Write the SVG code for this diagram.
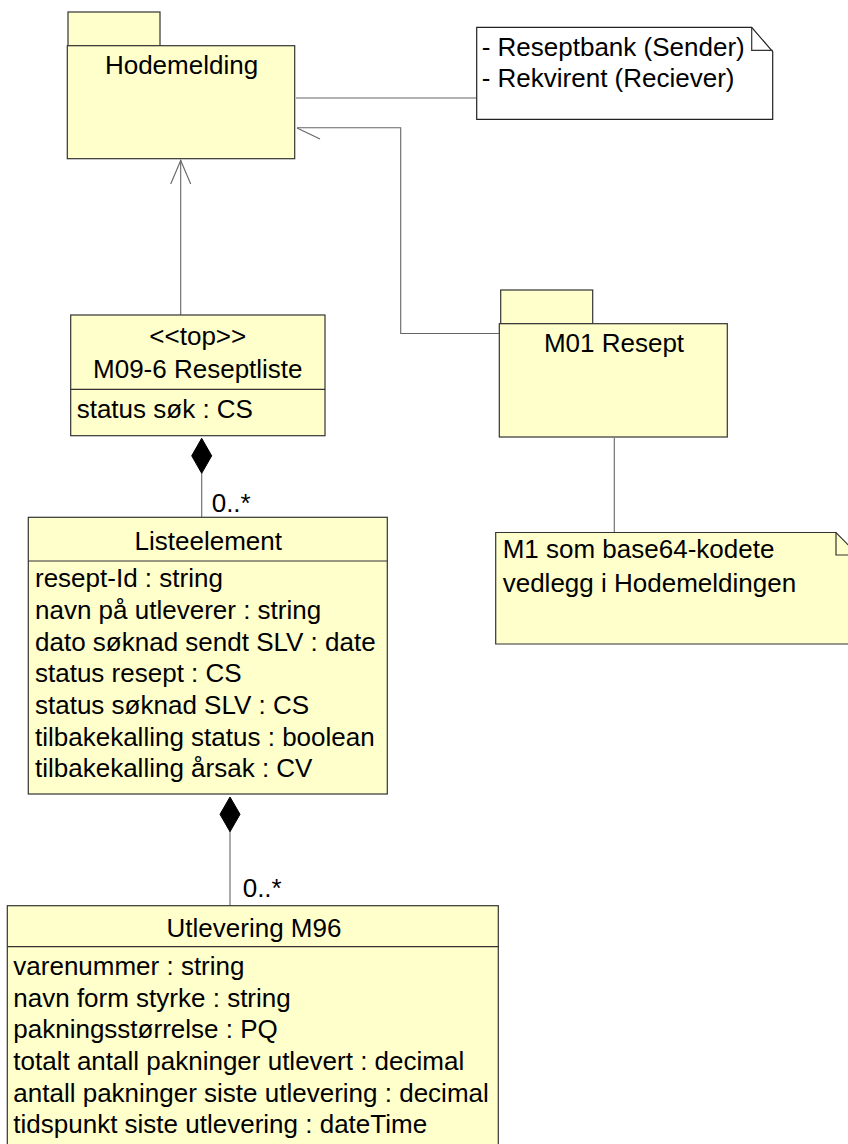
<svg xmlns="http://www.w3.org/2000/svg" width="848" height="1144" viewBox="0 0 848 1144">
<style>
.box{fill:#ffffcc;stroke:#333333;stroke-width:1.2}
.note{fill:#ffffff;stroke:#222222;stroke-width:1.2}
.div{stroke:#333333;stroke-width:1.2;fill:none}
.con{stroke:#666666;stroke-width:1.1;fill:none}
.t{font-family:"Liberation Sans",Arial,sans-serif;font-size:26px;fill:#000000}
.c{text-anchor:middle}
</style>
<rect width="848" height="1144" fill="#ffffff"/>
<g id="connectors">
<line class="con" x1="296" y1="98" x2="477" y2="98"/>
<polyline class="con" points="500,333.5 400.7,333.5 400.7,127.7 297,127.7"/>
<line class="con" x1="297" y1="128" x2="320" y2="139"/>
<line class="con" x1="180.7" y1="315" x2="180.7" y2="160"/>
<polyline class="con" points="170.7,184 180.7,160.5 190.7,184"/>
<line class="con" x1="614.3" y1="438" x2="614.3" y2="532"/>
<line class="con" x1="201.7" y1="473" x2="201.7" y2="517"/>
<polygon points="201.7,438.3 211.7,455.8 201.7,473.3 191.7,455.8" fill="#000000" stroke="#000000" stroke-width="1"/>
<text class="t" x="211.7" y="511.7">0..*</text>
<line class="con" x1="230" y1="831" x2="230" y2="905.5"/>
<polygon points="230,797 240,814.3 230,831.7 220,814.3" fill="#000000" stroke="#000000" stroke-width="1"/>
<text class="t" x="242.7" y="896.7">0..*</text>
</g>
<g id="hodemelding">
<rect class="box" x="68" y="12" width="92" height="34"/>
<rect class="box" x="67.3" y="45.7" width="227.4" height="113"/>
<text class="t c" x="181.5" y="74">Hodemelding</text>
</g>
<g id="note-sender">
<path class="note" d="M476.7,27.3 H751.7 L772.7,51.7 V119.3 H476.7 Z"/>
<path class="div" d="M751.7,27.3 V50.3 H772.7"/>
<text class="t" x="481.7" y="56">- Reseptbank (Sender)</text>
<text class="t" x="481.7" y="86.7">- Rekvirent (Reciever)</text>
</g>
<g id="m01-resept">
<rect class="box" x="500.7" y="290" width="92" height="33.7"/>
<rect class="box" x="499.3" y="323.7" width="228" height="113.3"/>
<text class="t c" x="614" y="351.7">M01 Resept</text>
</g>
<g id="note-m1">
<path class="box" d="M495.7,532.5 H836 L860,557 V644 H495.7 Z"/>
<path class="div" d="M836,532.5 V555 H860"/>
<text class="t" x="502.7" y="558.3">M1 som base64-kodete</text>
<text class="t" x="502.7" y="591.7">vedlegg i Hodemeldingen</text>
</g>
<g id="reseptliste">
<rect class="box" x="70.7" y="315" width="254.3" height="120.7"/>
<line class="div" x1="70.7" y1="389.3" x2="325" y2="389.3"/>
<text class="t c" x="197.8" y="345">&lt;&lt;top&gt;&gt;</text>
<text class="t c" x="197.8" y="378.3">M09-6 Reseptliste</text>
<text class="t" x="76.7" y="418.3">status søk : CS</text>
</g>
<g id="listeelement">
<rect class="box" x="28.3" y="517.3" width="359" height="276.7"/>
<line class="div" x1="28.3" y1="561" x2="387.3" y2="561"/>
<text class="t c" x="208.3" y="550">Listeelement</text>
<text class="t" x="35" y="587.3">resept-Id : string</text>
<text class="t" x="35" y="619">navn på utleverer : string</text>
<text class="t" x="35" y="650.7">dato søknad sendt SLV : date</text>
<text class="t" x="35" y="682.3">status resept : CS</text>
<text class="t" x="35" y="714">status søknad SLV : CS</text>
<text class="t" x="35" y="745.7">tilbakekalling status : boolean</text>
<text class="t" x="35" y="777.3">tilbakekalling årsak : CV</text>
</g>
<g id="utlevering">
<rect class="box" x="7.3" y="905.7" width="491" height="260"/>
<line class="div" x1="7.3" y1="946.7" x2="498.3" y2="946.7"/>
<text class="t c" x="254" y="936.7">Utlevering M96</text>
<text class="t" x="13.3" y="975">varenummer : string</text>
<text class="t" x="13.3" y="1006.7">navn form styrke : string</text>
<text class="t" x="13.3" y="1038.3">pakningsstørrelse : PQ</text>
<text class="t" x="13.3" y="1070">totalt antall pakninger utlevert : decimal</text>
<text class="t" x="13.3" y="1101.7">antall pakninger siste utlevering : decimal</text>
<text class="t" x="13.3" y="1133.3">tidspunkt siste utlevering : dateTime</text>
</g>
</svg>
